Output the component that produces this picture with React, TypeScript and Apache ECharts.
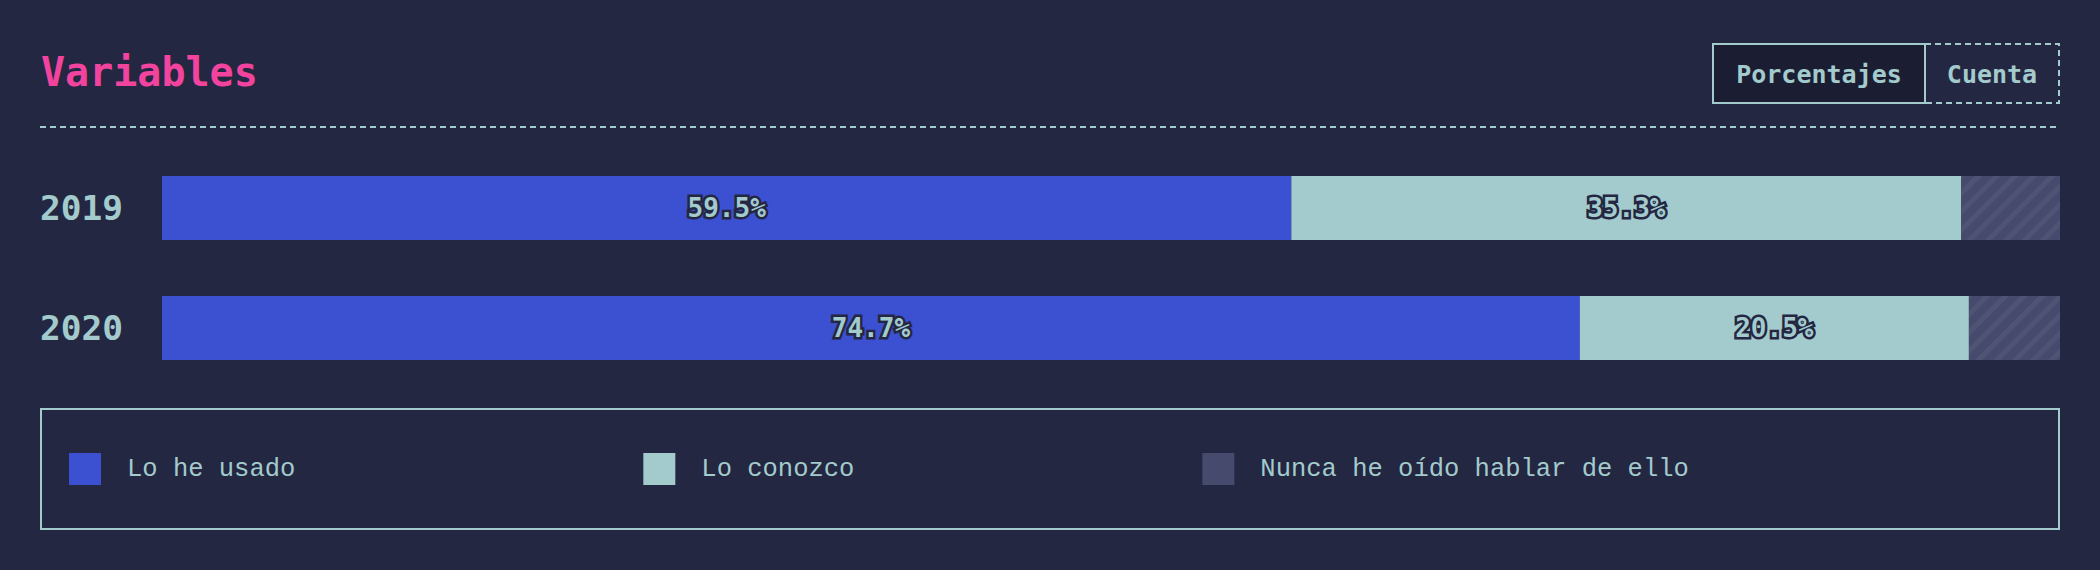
import React, { useEffect, useRef } from "react";
import * as echarts from "echarts";

const years = ["2019", "2020"];
const usado = [59.5, 74.7];
const conozco = [35.3, 20.5];
const nunca = [5.2, 4.8];
const seriesNames = ["Lo he usado", "Lo conozco", "Nunca he oído hablar de ello"];
const buttons = ["Porcentajes", "Cuenta"];

const BG = "#232741";
const TEAL = "#a3cbcd";
const BLUE = "#3c50d2";
const GREY = "#464b6e";
const PINK = "#f2449e";
const MONO = "'DejaVu Sans Mono', 'Liberation Mono', monospace";
const MONO_LIGHT = "'Liberation Mono', 'DejaVu Sans Mono', monospace";

export default function App() {
  const ref = useRef<HTMLDivElement>(null);
  useEffect(() => {
    if (!ref.current) return;
    const chart = echarts.init(ref.current, undefined, { renderer: "svg" });
    const labelCfg = {
      show: true,
      position: "inside",
      formatter: (p: any) => `${Number(p.value).toFixed(1)}%`,
      color: TEAL,
      fontFamily: MONO,
      fontWeight: "bold",
      fontSize: 26,
      textBorderColor: BG,
      textBorderWidth: 5,
    };
    chart.setOption({
      animation: false,
      backgroundColor: BG,
      title: {
        text: "Variables",
        left: 36,
        top: 47,
        textStyle: { color: PINK, fontFamily: MONO, fontWeight: "bold", fontSize: 40 },
      },
      grid: { left: 162, right: 40, top: 148, height: 240 },
      xAxis: { type: "value", min: 0, max: 100, show: false },
      yAxis: {
        type: "category",
        data: years,
        inverse: true,
        axisLine: { show: false },
        axisTick: { show: false },
        splitLine: { show: false },
        axisLabel: {
          align: "left",
          margin: 122,
          color: TEAL,
          fontFamily: MONO,
          fontWeight: "bold",
          fontSize: 34.5,
        },
      },
      legend: {
        left: 69,
        top: 453,
        padding: 0,
        itemWidth: 32,
        itemHeight: 32,
        itemGap: 348,
        icon: "rect",
        data: seriesNames.map((n) => ({ name: n, itemStyle: { decal: "none" } })),
        textStyle: {
          color: TEAL,
          fontFamily: MONO_LIGHT,
          fontSize: 25.5,
          padding: [5, 0, 0, 21],
        },
      },
      series: [
        {
          name: seriesNames[0],
          type: "bar",
          stack: "t",
          barWidth: 64,
          data: usado,
          itemStyle: { color: BLUE },
          label: labelCfg,
        },
        {
          name: seriesNames[1],
          type: "bar",
          stack: "t",
          barWidth: 64,
          data: conozco,
          itemStyle: { color: TEAL },
          label: labelCfg,
        },
        {
          name: seriesNames[2],
          type: "bar",
          stack: "t",
          barWidth: 64,
          data: nunca,
          itemStyle: {
            color: GREY,
            decal: {
              symbol: "rect",
              symbolSize: 1,
              color: "rgba(255,255,255,0.05)",
              dashArrayX: [1, 0],
              dashArrayY: [5, 8],
              rotation: -Math.PI / 4,
            },
          },
          label: { show: false },
        },
      ],
      graphic: [
        {
          type: "line",
          shape: { x1: 40, y1: 127, x2: 2060, y2: 127 },
          style: { stroke: TEAL, lineWidth: 2, lineDash: [6, 4] },
        },
        {
          type: "rect",
          shape: { x: 1713, y: 44, width: 212, height: 59 },
          style: { fill: "#1b1e33", stroke: TEAL, lineWidth: 2 },
        },
        {
          type: "rect",
          shape: { x: 1925, y: 44, width: 134, height: 59 },
          style: { fill: "none", stroke: TEAL, lineWidth: 2, lineDash: [6, 4] },
        },
        {
          type: "line",
          shape: { x1: 1925, y1: 44, x2: 1925, y2: 103 },
          style: { stroke: TEAL, lineWidth: 2 },
        },
        {
          type: "text",
          x: 1819,
          y: 74,
          style: {
            text: buttons[0],
            fill: TEAL,
            font: `bold 25px ${MONO}`,
            textAlign: "center",
            textVerticalAlign: "middle",
          },
        },
        {
          type: "text",
          x: 1992,
          y: 74,
          style: {
            text: buttons[1],
            fill: TEAL,
            font: `bold 25px ${MONO}`,
            textAlign: "center",
            textVerticalAlign: "middle",
          },
        },
        {
          type: "rect",
          shape: { x: 41, y: 409, width: 2018, height: 120 },
          style: { fill: "none", stroke: TEAL, lineWidth: 2 },
        },
      ],
    });
    return () => chart.dispose();
  }, []);
  return (
    <div
      ref={ref}
      style={{ position: "fixed", left: 0, top: 0, width: 2100, height: 570, background: BG }}
    />
  );
}
